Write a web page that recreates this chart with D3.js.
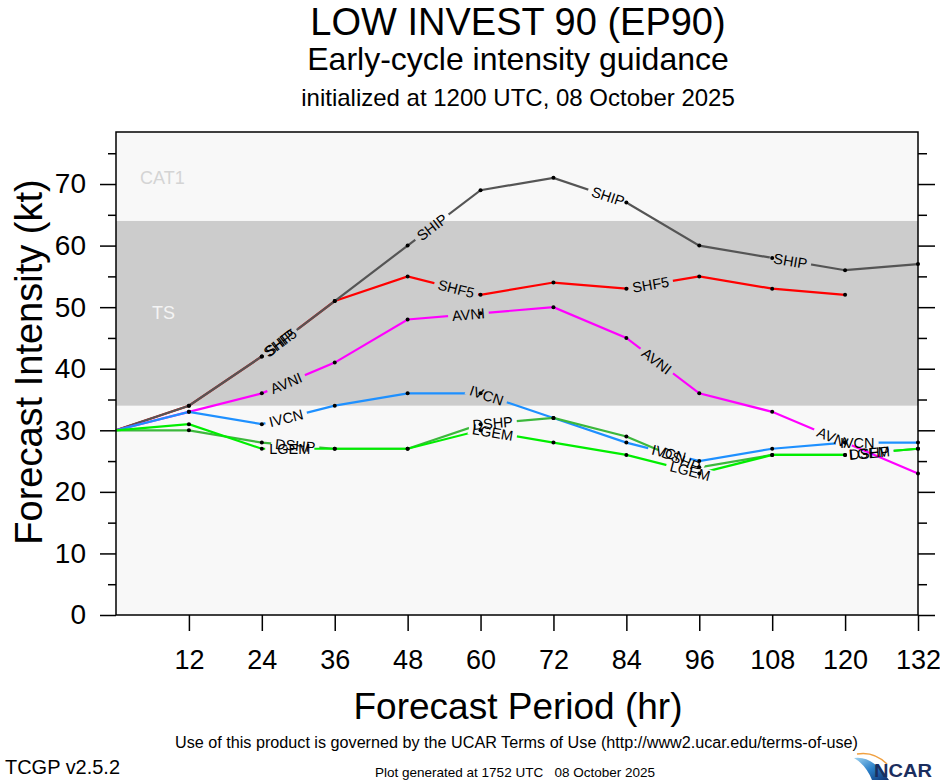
<!DOCTYPE html>
<html><head><meta charset="utf-8">
<script src="https://cdn.jsdelivr.net/npm/d3@7"></script>
<style>body{margin:0;background:#fff}svg{display:block}</style>
</head><body>
<svg id="c" width="940" height="780"></svg>
<script>
// ---- data ----
const hours = [0,12,24,36,48,60,72,84,96,108,120,132];
const xTicks = [12,24,36,48,60,72,84,96,108,120,132];
const yMajor = [0,10,20,30,40,50,60,70];
const yMinor = [5,15,25,35,45,55,65,75];
const SHF5 = [30,34,42,51,55,52,54,53,55,53,52,null];
const SHIP = [30,34,42,51,60,69,71,67,60,58,56,57];
const AVNI = [30,33,36,41,48,49,50,45,36,33,28,23];
const IVCN = [30,33,31,34,36,36,32,28,25,27,28,28];
const DSHP = [30,30,28,27,27,31,32,29,24,26,26,27];
const LGEM = [30,31,27,27,27,30,28,26,23,26,26,27];
const seriesNames = ["SHF5","SHIP","AVNI","IVCN","DSHP","LGEM"];
const seriesValues = [SHF5,SHIP,AVNI,IVCN,DSHP,LGEM];
const seriesColors = ["#ff0000","#555555","#ff00ff","#1e90ff","#3cb83c","#00ee00"];
// label positions along each line (forecast hour)
const labelHours = [[27,56,88],[27,52,81,111],[28,58,89,118],[28,61,91,122],[29.5,62,93,124],[28.6,62,94.5,124]];
const bands = [{name:"TS",lo:34,hi:64}];

const svg = d3.select("#c");
const W=940,H=780;
const L=116,R=918,T=132,B=615;
const x = d3.scaleLinear().domain([0,132]).range([L,R]);
const y = d3.scaleLinear().domain([0,78.45]).range([B,T]);
const font = "'Liberation Sans', Arial, Helvetica, sans-serif";
const narrow = "'Liberation Sans Narrow','Arial Narrow', 'Liberation Sans', sans-serif";

// titles
svg.append("text").attr("x",518).attr("y",35).attr("text-anchor","middle").attr("font-family",font).attr("font-size",38).text("LOW INVEST 90 (EP90)");
svg.append("text").attr("x",518).attr("y",70).attr("text-anchor","middle").attr("font-family",font).attr("font-size",32).text("Early-cycle intensity guidance");
svg.append("text").attr("x",518).attr("y",106).attr("text-anchor","middle").attr("font-family",font).attr("font-size",24).text("initialized at 1200 UTC, 08 October 2025");

// plot background
svg.append("rect").attr("x",L).attr("y",T).attr("width",R-L).attr("height",B-T).attr("fill","#f8f8f8");
bands.forEach(b=>{
  svg.append("rect").attr("x",L).attr("y",y(b.hi)).attr("width",R-L).attr("height",y(b.lo)-y(b.hi)).attr("fill","#cccccc");
});
svg.append("text").attr("x",140).attr("y",184).attr("font-family",font).attr("font-size",18).attr("fill","#d4d4d4").text("CAT1");
svg.append("text").attr("x",152).attr("y",319).attr("font-family",font).attr("font-size",18).attr("fill","#f4f4f4").text("TS");

// masks & labels
const defs = svg.append("defs");
const labelG = svg.append("g");
const lineG = svg.insert("g", "g");
const line = d3.line().defined(d=>d[1]!=null).x(d=>x(d[0])).y(d=>y(d[1]));

seriesNames.forEach((name,i)=>{
  const vals = seriesValues[i];
  const pts = hours.map((h,j)=>[h,vals[j]]).filter(d=>d[1]!=null);
  const mask = defs.append("mask").attr("id","m"+i).attr("maskUnits","userSpaceOnUse")
    .attr("x",0).attr("y",0).attr("width",W).attr("height",H);
  mask.append("rect").attr("x",0).attr("y",0).attr("width",W).attr("height",H).attr("fill","#fff");
  labelHours[i].forEach(h=>{
    let k = pts.findIndex((p,j)=>j<pts.length-1 && h>=p[0] && h<=pts[j+1][0]);
    if(k<0) return;
    const p0=pts[k],p1=pts[k+1];
    const t=(h-p0[0])/(p1[0]-p0[0]);
    const px=x(p0[0])+t*(x(p1[0])-x(p0[0]));
    const py=y(p0[1])+t*(y(p1[1])-y(p0[1]));
    const ang=Math.atan2(y(p1[1])-y(p0[1]), x(p1[0])-x(p0[0]))*180/Math.PI;
    const tx = labelG.append("text").attr("transform",`translate(${px},${py}) rotate(${ang})`)
      .attr("text-anchor","middle").attr("dy","0.36em").attr("font-family",font).attr("font-size",14.5).attr("fill","#000").text(name);
    const w = tx.node().getComputedTextLength();
    mask.append("rect").attr("transform",`translate(${px},${py}) rotate(${ang})`)
      .attr("x",-w/2-4).attr("y",-6).attr("width",w+8).attr("height",12).attr("fill","#000");
  });
  lineG.append("path").datum(pts).attr("d",line).attr("fill","none").attr("stroke",seriesColors[i])
    .attr("stroke-width",2.2).attr("mask",`url(#m${i})`);
});

// dots
const dotG = svg.append("g");
seriesValues.forEach(vals=>{
  hours.forEach((h,j)=>{ if(vals[j]!=null && j>0) dotG.append("circle").attr("cx",x(h)).attr("cy",y(vals[j])).attr("r",2).attr("fill","#000"); });
});

// frame
svg.append("rect").attr("x",L).attr("y",T).attr("width",R-L).attr("height",B-T).attr("fill","none").attr("stroke","#000").attr("stroke-width",1.5);

// axes
const yAxisL = d3.axisLeft(y).tickValues(yMajor).tickSize(16).tickPadding(14).tickFormat(d3.format("d"));
const gl = svg.append("g").attr("transform",`translate(${L},0)`).call(yAxisL);
gl.select(".domain").remove();
gl.selectAll("line").attr("stroke-width",1.5);
gl.selectAll("text").attr("font-family",font).attr("font-size",28).attr("fill","#000");
const gl2 = svg.append("g").attr("transform",`translate(${L},0)`).call(d3.axisLeft(y).tickValues(yMinor).tickSize(8).tickFormat(""));
gl2.select(".domain").remove(); gl2.selectAll("line").attr("stroke-width",1.5);
const gr = svg.append("g").attr("transform",`translate(${R},0)`).call(d3.axisRight(y).tickValues(yMajor).tickSize(17).tickFormat(""));
gr.select(".domain").remove(); gr.selectAll("line").attr("stroke-width",1.5);
const gr2 = svg.append("g").attr("transform",`translate(${R},0)`).call(d3.axisRight(y).tickValues(yMinor).tickSize(9).tickFormat(""));
gr2.select(".domain").remove(); gr2.selectAll("line").attr("stroke-width",1.5);
const gb = svg.append("g").attr("transform",`translate(0,${B})`).call(d3.axisBottom(x).tickValues(xTicks).tickSize(16).tickPadding(19));
gb.select(".domain").remove();
gb.selectAll("line").attr("stroke-width",1.5);
gb.selectAll("text").attr("font-family",font).attr("font-size",27).attr("fill","#000");

// axis titles
svg.append("text").attr("x",518).attr("y",719).attr("text-anchor","middle").attr("font-family",font).attr("font-size",37).text("Forecast Period (hr)");
svg.append("text").attr("transform","translate(42,362) rotate(-90)").attr("text-anchor","middle").attr("font-family",font).attr("font-size",38).text("Forecast Intensity (kt)");

// footer
svg.append("text").attr("x",175).attr("y",748).attr("font-family",narrow).attr("font-size",16).attr("textLength",683).attr("lengthAdjust","spacingAndGlyphs").text("Use of this product is governed by the UCAR Terms of Use (http://www2.ucar.edu/terms-of-use)");
svg.append("text").attr("x",5).attr("y",774).attr("font-family",narrow).attr("font-size",20).attr("textLength",115).attr("lengthAdjust","spacingAndGlyphs").text("TCGP v2.5.2");
svg.append("text").attr("x",375).attr("y",777).attr("font-family",narrow).attr("font-size",13).attr("textLength",280).attr("lengthAdjust","spacingAndGlyphs").attr("xml:space","preserve").text("Plot generated at 1752 UTC   08 October 2025");

// NCAR logo
const grad = defs.append("linearGradient").attr("id","ng").attr("x1","0").attr("y1","0").attr("x2","1").attr("y2","1");
grad.append("stop").attr("offset","0").attr("stop-color","#9fd3f0");
grad.append("stop").attr("offset","0.5").attr("stop-color","#2a7fc8");
grad.append("stop").attr("offset","1").attr("stop-color","#0d2f6e");
svg.append("path").attr("d","M854,758 Q872,755 889,780 L872,780 Q866,765 854,758 Z").attr("fill","url(#ng)");
svg.append("path").attr("d","M857,754 Q874,751 887,764").attr("fill","none").attr("stroke","#f0a040").attr("stroke-width",1.5);
svg.append("text").attr("x",874).attr("y",777).attr("font-family",narrow).attr("font-weight","bold").attr("font-size",19).attr("fill","#1b2e5e").attr("textLength",58).attr("lengthAdjust","spacingAndGlyphs").text("NCAR");
</script>
</body></html>
